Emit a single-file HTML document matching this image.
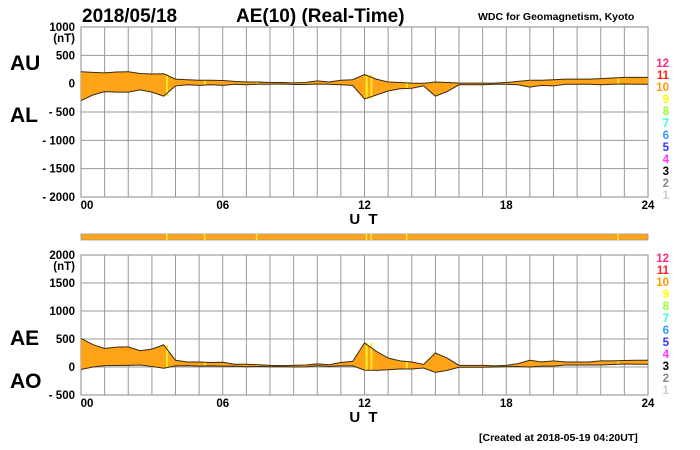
<!DOCTYPE html>
<html><head><meta charset="utf-8">
<style>
html,body{margin:0;padding:0;background:#fff;}
svg{display:block;font-family:"Liberation Sans",sans-serif;}
</style></head>
<body>
<svg id="chart" width="700" height="450" viewBox="0 0 700 450" xmlns="http://www.w3.org/2000/svg">
<text x="82" y="22" font-size="19" font-weight="bold">2018/05/18</text>
<text x="236" y="22" font-size="19" font-weight="bold">AE(10) (Real-Time)</text>
<text x="478" y="20" font-size="10.5" font-weight="bold">WDC for Geomagnetism, Kyoto</text>
<text x="479" y="441" font-size="10.5" font-weight="bold">[Created at 2018-05-19 04:20UT]</text>
<g id="top"></g>
<g id="bot"></g>
<g id="bar"></g>
</svg>
<script>
const hours = [0,0.5,1,1.5,2,2.5,3,3.5,4,4.5,5,5.5,6,6.5,7,7.5,8,8.5,9,9.5,10,10.5,11,11.5,12,12.5,13,13.5,14,14.5,15,15.5,16,16.5,17,17.5,18,18.5,19,19.5,20,20.5,21,21.5,22,22.5,23,23.5,24];
const auValues = [210,200,190,205,210,180,170,175,80,70,60,60,55,40,30,30,20,20,15,20,50,30,60,70,160,80,30,20,10,5,30,20,10,10,10,10,20,40,60,60,70,80,80,80,90,100,110,110,110];
const alValues = [-300,-200,-140,-150,-150,-110,-150,-220,-40,-20,-30,-20,-30,-10,-20,-10,-10,-5,-15,-15,-5,-10,-20,-30,-270,-200,-130,-90,-80,-40,-220,-140,-20,-20,-20,-10,-10,-20,-60,-30,-40,-10,-10,-10,-20,-10,-5,-10,-10];
const topTicks = [1000,500,0,-500,-1000,-1500,-2000];
const botTicks = [2000,1500,1000,500,0,-500];
const xTickLabels = ["00","06","12","18","24"];
const yellowStripes = [3.6,5.2,7.4,12.05,12.25,13.75,22.7];
const stationLabels = ["12","11","10","9","8","7","6","5","4","3","2","1"];
const stationColors = ["#ff2a7f","#ff2020","#ff9900","#ffff00","#99ff33","#33ffdd","#3399ff","#3333ff","#ff33ff","#000000","#888888","#cccccc"];

const NS="http://www.w3.org/2000/svg";
const X0=81,X1=648;
const xs=h=>X0+(X1-X0)*h/24;
function mk(p,tag,attrs){const e=document.createElementNS(NS,tag);for(const k in attrs)e.setAttribute(k,attrs[k]);p.appendChild(e);return e;}

function panel(g,yTop,yBot,vMax,vMin,ticks,upper,lower,lab1,lab2,lab1y,lab2y,name,labTop){
  const ys=v=>yTop+(vMax-v)*(yBot-yTop)/(vMax-vMin);
  const frame=mk(g,'rect',{x:X0,y:yTop,width:X1-X0,height:yBot-yTop,fill:'#fff',stroke:'#888','stroke-width':1});
  
  
  for(let h=1;h<24;h++){const l=mk(g,'line',{x1:xs(h),x2:xs(h),y1:yTop,y2:yBot,stroke:'#999','stroke-width':1});
    }
  ticks.forEach((t,i)=>{
    const y=ys(t);
    if(t!==vMax&&t!==vMin){const l=mk(g,'line',{x1:X0,x2:X1,y1:y,y2:y,stroke:'#999','stroke-width':1});
      }
    const tx=mk(g,'text',{x:75,y:y+4,'font-size':11.5,'font-weight':'bold','text-anchor':'end'});
    tx.textContent=t<0?('- '+(-t)):String(t);
    
    
  });
  const u=mk(g,'text',{x:75,y:ys(ticks[0])+15,'font-size':11.5,'font-weight':'bold','text-anchor':'end'});
  u.textContent='(nT)';
  
  let d='M'+xs(hours[0])+','+ys(upper[0]);
  for(let i=1;i<hours.length;i++)d+=' L'+xs(hours[i])+','+ys(upper[i]);
  for(let i=hours.length-1;i>=0;i--)d+=' L'+xs(hours[i])+','+ys(lower[i]);
  const f=mk(g,'path',{d:d+'Z',fill:'#ffa317',stroke:'none'});
  
  yellowStripes.forEach(s=>{
    const i=Math.min(hours.length-2,Math.floor(s*2));
    const st=mk(g,'rect',{x:xs(s),y:ys(Math.max(upper[i],upper[i+1])),width:2,height:Math.abs(ys(Math.min(lower[i],lower[i+1]))-ys(Math.max(upper[i],upper[i+1]))),fill:'#ffee22'});
    
  });
  const mkLine=(arr,nm)=>{let p='';arr.forEach((v,i)=>p+=(i?' L':'M')+xs(hours[i])+','+ys(v));
    const l=mk(g,'path',{d:p,fill:'none',stroke:'#3a2a10','stroke-width':1});
    };
  mkLine(upper,lab1.toLowerCase()+'-line');mkLine(lower,lab2.toLowerCase()+'-line');
  xTickLabels.forEach((t,i)=>{const tx=mk(g,'text',{x:xs(i*6)+(i===0?6:0),y:yBot+12,'font-size':11.5,'font-weight':'bold','text-anchor':'middle'});
    tx.textContent=t;});
  const ut=mk(g,'text',{x:xs(12),y:yBot+27,'font-size':15,'font-weight':'bold','text-anchor':'middle','letter-spacing':'2'});
  ut.textContent='U T';
  const a=mk(g,'text',{x:10,y:lab1y,'font-size':21,'font-weight':'bold'});a.textContent=lab1;
  
  const b=mk(g,'text',{x:10,y:lab2y,'font-size':21,'font-weight':'bold'});b.textContent=lab2;
  
  stationLabels.forEach((s,i)=>{const tx=mk(g,'text',{x:669,y:labTop+i*12,'font-size':11.5,'font-weight':'bold','text-anchor':'end',fill:stationColors[i]});
    tx.textContent=s;});
}
const aeValues=auValues.map((v,i)=>v-alValues[i]);
const aoValues=auValues.map((v,i)=>(v+alValues[i])/2);
panel(document.getElementById('top'),27,197,1000,-2000,topTicks,auValues,alValues,'AU','AL',70,122,'au-al',67);
panel(document.getElementById('bot'),255,395,2000,-500,botTicks,aeValues,aoValues,'AE','AO',345,388,'ae-ao',262);
const bar=document.getElementById('bar');
const br=mk(bar,'rect',{x:X0,y:234,width:X1-X0,height:6,fill:'#ffa317',stroke:'#999','stroke-width':0.8});

yellowStripes.forEach(s=>{const r=mk(bar,'rect',{x:xs(s),y:234,width:1.5,height:6,fill:'#ffee22'});
  });
</script>
</body></html>
